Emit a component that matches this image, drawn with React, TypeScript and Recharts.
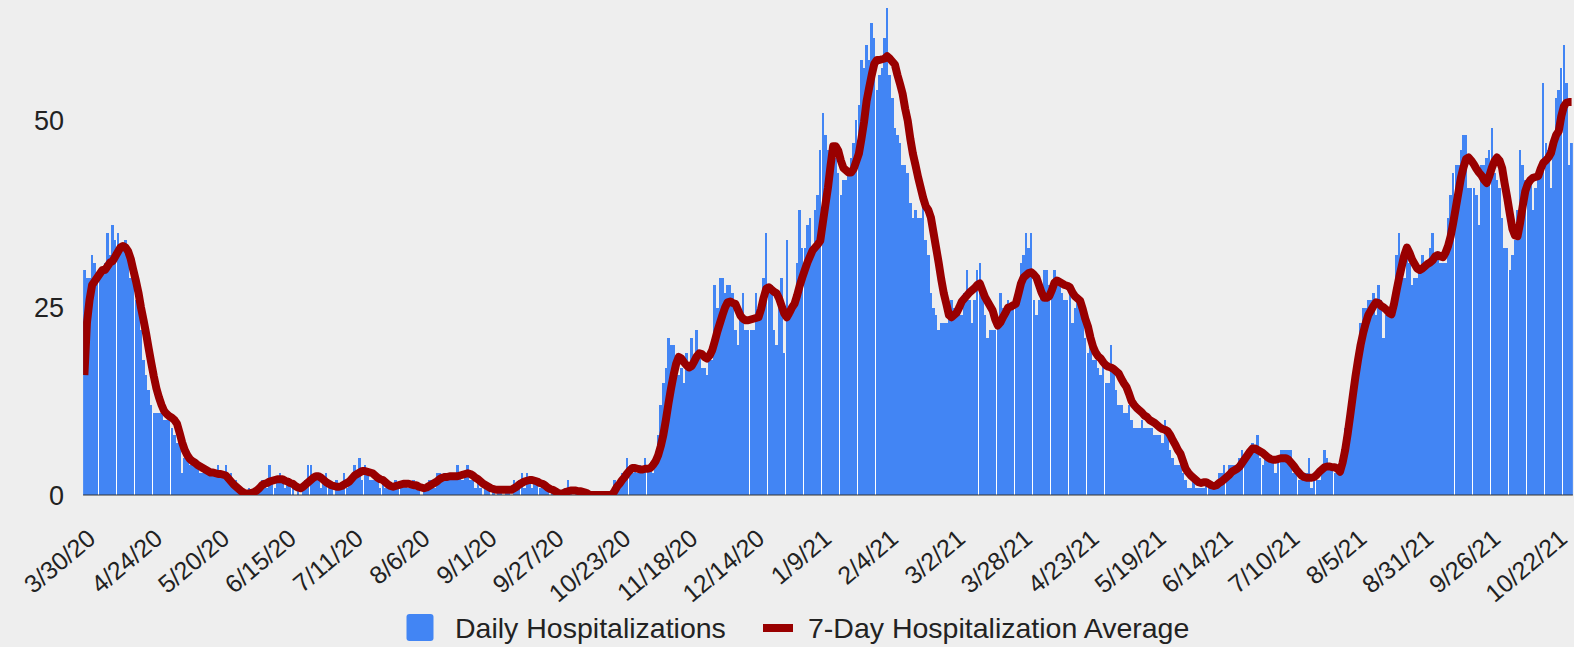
import { ComposedChart, Bar, Line, XAxis, YAxis, ReferenceLine } from "recharts"

// one value per day, first bar is late March 2020
const dailyHospitalizations = [
  30, 29, 29, 32, 31, 29, 30, 30, 31, 35,
  32, 36, 34, 35, 33, 33, 34, 32, 29, 29,
  26, 27, 22, 18, 16, 14, 12, 11, 11, 11,
  11, 10, 10, 10, 9, 8, 7, 7, 3, 5,
  5, 4, 4, 4, 4, 3, 3, 3, 3, 3,
  3, 3, 4, 3, 3, 4, 2, 3, 2, 2,
  1, 1, 0, 0, 1, 0, 0, 1, 1, 2,
  2, 1, 4, 2, 1, 2, 3, 2, 1, 2,
  2, 1, 0, 1, 0, 1, 2, 4, 4, 2,
  3, 2, 1, 2, 3, 1, 1, 0, 2, 1,
  1, 3, 1, 2, 2, 4, 3, 5, 2, 4,
  3, 2, 2, 3, 2, 1, 2, 1, 1, 1,
  1, 2, 1, 1, 2, 2, 1, 1, 2, 1,
  1, 0, 1, 1, 2, 2, 1, 3, 3, 2,
  3, 2, 2, 3, 2, 4, 3, 2, 3, 4,
  2, 3, 1, 2, 1, 0, 1, 1, 0, 1,
  0, 1, 1, 0, 1, 1, 0, 2, 1, 2,
  3, 1, 3, 2, 1, 2, 2, 1, 2, 1,
  1, 0, 1, 0, 0, 0, 0, 1, 2, 1,
  0, 1, 0, 1, 0, 0, 0, 0, 0, 0,
  0, 0, 0, 0, 0, 0, 2, 1, 2, 3,
  3, 5, 4, 3, 4, 3, 4, 3, 5, 4,
  4, 3, 5, 8, 12, 15, 17, 21, 20, 20,
  17, 16, 17, 15, 19, 17, 21, 18, 22, 19,
  17, 17, 16, 18, 18, 28, 25, 29, 29, 27,
  28, 28, 27, 22, 20, 24, 27, 22, 22, 22,
  22, 27, 24, 24, 29, 35, 28, 28, 22, 20,
  25, 29, 19, 34, 24, 24, 26, 31, 38, 33,
  33, 36, 37, 32, 38, 40, 46, 51, 48, 46,
  44, 46, 45, 43, 40, 42, 42, 43, 45, 47,
  50, 52, 58, 57, 60, 58, 63, 61, 54, 56,
  57, 61, 65, 56, 53, 49, 48, 47, 44, 44,
  43, 39, 37, 38, 37, 37, 39, 34, 32, 27,
  25, 24, 22, 23, 23, 23, 24, 26, 25, 25,
  24, 24, 27, 30, 26, 23, 26, 30, 31, 27,
  24, 21, 22, 22, 22, 23, 27, 25, 25, 26,
  25, 25, 25, 27, 31, 32, 35, 33, 35, 26,
  24, 26, 27, 30, 30, 28, 27, 30, 29, 28,
  27, 26, 26, 27, 23, 25, 26, 26, 25, 21,
  19, 20, 18, 18, 17, 16, 18, 15, 15, 20,
  17, 14, 12, 12, 11, 11, 12, 10, 9, 9,
  9, 10, 9, 9, 9, 9, 8, 8, 8, 7,
  10, 8, 6, 5, 4, 4, 4, 3, 2, 1,
  1, 2, 1, 1, 1, 1, 2, 2, 1, 1,
  1, 3, 3, 4, 2, 4, 4, 4, 4, 5,
  6, 5, 6, 6, 7, 6, 8, 5, 4, 5,
  5, 5, 5, 3, 5, 6, 6, 6, 6, 6,
  3, 4, 2, 2, 3, 3, 5, 1, 2, 2,
  2, 4, 6, 5, 4, 4, 3, 4, 3, 4,
  9, 7, 12, 14, 17, 20, 23, 25, 25, 26,
  26, 27, 24, 28, 26, 21, 24, 25, 25, 27,
  32, 35, 30, 29, 32, 31, 28, 29, 29, 30,
  32, 31, 31, 33, 35, 32, 32, 31, 31, 31,
  37, 40, 43, 44, 44, 46, 48, 48, 41, 41,
  41, 40, 36, 44, 44, 45, 46, 49, 43, 42,
  41, 37, 33, 33, 30, 32, 34, 38, 46, 44,
  42, 41, 42, 38, 41, 43, 44, 55, 47, 46,
  41, 48, 53, 54, 57, 60, 55, 44, 47,
]

const sevenDayAverage = [
  16, 23, 26, 28, 28.5, 29, 29.5, 30, 30, 30.5,
  31, 31.2, 31.8, 32.4, 33, 33.2, 33, 32.5, 31.5, 30,
  28.6, 27, 25, 23.3, 21.5, 19.5, 17.6, 15.8, 14.2, 13,
  12, 11.2, 10.8, 10.5, 10.3, 10, 9.5, 8.3, 7, 6,
  5.3, 4.8, 4.5, 4.3, 4, 3.8, 3.6, 3.4, 3.2, 3,
  3, 2.9, 2.8, 2.8, 2.7, 2.6, 2.2, 1.8, 1.4, 1.1,
  0.8, 0.5, 0.3, 0.2, 0.2, 0.3, 0.4, 0.6, 0.9, 1.3,
  1.5, 1.6, 1.8, 1.9, 2, 2.1, 2.1, 2.1, 1.9, 1.8,
  1.6, 1.5, 1.2, 1, 0.9, 1.1, 1.4, 1.7, 2, 2.3,
  2.5, 2.5, 2.3, 2, 1.7, 1.5, 1.3, 1.2, 1.1, 1.1,
  1.2, 1.4, 1.6, 1.8, 2.2, 2.6, 2.8, 3, 3.2, 3.2,
  3.1, 3, 2.9, 2.6, 2.3, 2.1, 2, 1.7, 1.4, 1.2,
  1.1, 1.2, 1.3, 1.4, 1.5, 1.5, 1.5, 1.4, 1.3, 1.3,
  1.1, 1, 0.9, 1, 1.2, 1.4, 1.6, 1.8, 2.1, 2.3,
  2.4, 2.4, 2.5, 2.5, 2.5, 2.5, 2.6, 2.7, 2.8, 2.9,
  2.8, 2.6, 2.3, 2.1, 1.8, 1.5, 1.3, 1.1, 0.9, 0.8,
  0.7, 0.7, 0.7, 0.7, 0.7, 0.7, 0.7, 0.9, 1.1, 1.4,
  1.6, 1.8, 1.9, 2, 2, 1.9, 1.8, 1.6, 1.5, 1.3,
  1, 0.8, 0.7, 0.5, 0.3, 0.2, 0.2, 0.4, 0.5, 0.6,
  0.6, 0.6, 0.5, 0.5, 0.4, 0.3, 0.1, 0, 0, 0,
  0, 0, 0, 0, 0, 0, 0.5, 1.1, 1.5, 2,
  2.4, 2.9, 3.3, 3.6, 3.6, 3.5, 3.4, 3.4, 3.5, 3.5,
  3.6, 4, 4.5, 5.3, 6.5, 8, 10, 12.2, 14.2, 16,
  17.5, 18.4, 18.2, 17.7, 17.3, 17, 17.2, 17.8, 18.5, 18.9,
  18.8, 18.4, 18.2, 18.6, 19.3, 20.5, 21.8, 22.9, 24, 25,
  25.7, 25.8, 25.6, 25.5, 24.7, 23.9, 23.5, 23.3, 23.3, 23.4,
  23.5, 23.6, 23.7, 24.8, 26.3, 27.5, 27.7, 27.4, 27.1, 26.9,
  26.2, 25.2, 24.2, 23.7, 24.3, 25, 25.5, 26.6, 27.9, 29,
  30, 31, 31.8, 32.6, 33, 33.4, 33.9, 36.3, 38.7, 41,
  43.9, 46.5, 46.5, 45.9, 44.6, 43.6, 43.3, 43, 43, 43.5,
  44.5, 45.5, 47.5, 49.7, 52.5, 54.3, 56, 57.5, 58, 58,
  58.1, 58.2, 58.5, 58.2, 57.8, 57.4, 56, 54.8, 53.5, 51.5,
  49.9, 47.5, 45.5, 44, 42.4, 41, 39.6, 38.5, 38, 37,
  35, 33, 31, 28.8, 26.9, 25.5, 24, 23.7, 24, 24.3,
  25, 25.8, 26.2, 26.6, 27, 27.3, 27.6, 28, 28.2, 27.3,
  26.4, 25.8, 25.2, 24.6, 23.4, 22.6, 23, 23.7, 24.3, 25,
  25.1, 25.3, 25.5, 26.8, 28.2, 29, 29.3, 29.6, 29.7, 29.4,
  29, 28, 27, 26.3, 26.3, 26.5, 27.3, 28.3, 28.6, 28.4,
  28.2, 28, 27.9, 27.7, 27, 26.5, 26.2, 25.9, 24.8, 23.5,
  22.5, 21, 19.8, 19, 18.5, 18.2, 17.7, 17.3, 17.1, 17,
  16.8, 16.5, 16.2, 15.5, 14.9, 14.4, 13.5, 12.5, 12, 11.6,
  11.3, 11, 10.6, 10.4, 10, 9.8, 9.6, 9.3, 9, 8.8,
  8.7, 8.5, 8, 7.3, 6.7, 6, 5.5, 4.5, 3.5, 3,
  2.6, 2.3, 2, 1.7, 1.6, 1.7, 1.7, 1.5, 1.3, 1.2,
  1.3, 1.6, 1.8, 2.1, 2.4, 2.7, 3.1, 3.3, 3.5, 3.8,
  4.3, 4.8, 5.3, 5.8, 6.2, 6.2, 6, 5.8, 5.6, 5.3,
  5, 4.8, 4.7, 4.7, 4.8, 4.9, 4.9, 4.9, 4.7, 4.3,
  3.9, 3.4, 3, 2.6, 2.4, 2.3, 2.3, 2.3, 2.4, 2.7,
  3.1, 3.4, 3.7, 3.8, 3.8, 3.7, 3.7, 3.5, 3.1, 4.3,
  6, 8.2, 10.7, 13.3, 15.8, 18, 20, 21.6, 22.9, 24,
  24.6, 25.2, 25.7, 25.6, 25.2, 25, 24.7, 24.3, 24.1, 25.5,
  27.3, 29, 30.5, 32, 33, 32.3, 31.4, 30.8, 30.2, 30,
  30.2, 30.5, 30.8, 31, 31.3, 31.8, 32, 31.8, 31.7, 32.3,
  33.2, 34.5, 36.3, 38.3, 40.3, 42.3, 43.7, 44.8, 45, 44.6,
  44.1, 43.5, 43, 42.6, 42, 41.6, 42.5, 43.6, 44.5, 45,
  44.6, 43.6, 41.5, 39.6, 37.5, 35.5, 34.6, 34.5, 36.3, 38.5,
  40.5, 41.5, 42, 42.3, 42.4, 42.5, 43.5, 44.3, 44.6, 45,
  45.6, 47, 48, 48.5, 50.5, 51.8, 52.3, 52.4, 52.4,
]

const tickDays = [5, 31, 57, 83, 109, 135, 161, 187, 213, 239, 265, 291, 317, 343, 369, 395, 421, 447, 473, 499, 525, 551, 577]
const tickLabels = [
  "3/30/20", "4/24/20", "5/20/20", "6/15/20", "7/11/20", "8/6/20", "9/1/20", "9/27/20",
  "10/23/20", "11/18/20", "12/14/20", "1/9/21", "2/4/21", "3/2/21", "3/28/21", "4/23/21",
  "5/19/21", "6/14/21", "7/10/21", "8/5/21", "8/31/21", "9/26/21", "10/22/21",
]
const yTicks = [0, 25, 50]

const data = dailyHospitalizations.map((daily, day) => ({
  day,
  daily,
  avg: sevenDayAverage[day],
}))

const FONT = '"Liberation Sans", Arial, sans-serif'
const DAY_PX = 2.573
const PLOT_LEFT = 83.1
const PLOT_BOTTOM = 495
const CHART_W = 1600
const CHART_H = 647
const plotWidth = data.length * DAY_PX

// bars get snapped to whole pixels, which leaves the odd 1px white seam like the original
function DayBar(props) {
  const { x, y, width, height, index } = props
  if (!height || height <= 0) return null
  const left = Math.round(x)
  const right = Math.round(x + width)
  const nextLeft = Math.round(x + DAY_PX)
  const own = dailyHospitalizations[index]
  const next = dailyHospitalizations[index + 1] ?? 0
  const seam = own > 0 ? Math.min(height, (height * next) / own) : 0
  return (
    <g>
      <rect x={left} y={y} width={right - left} height={height} fill="#4285f4" shapeRendering="crispEdges" />
      {nextLeft > right && seam > 0 ? (
        <rect x={right} y={y + height - seam} width={nextLeft - right} height={seam} fill="#ffffff" shapeRendering="crispEdges" />
      ) : null}
    </g>
  )
}

function SlantTick({ x, y, payload }) {
  const label = tickLabels[tickDays.indexOf(payload.value)]
  return (
    <g transform={`translate(${x},${y + 46}) rotate(-40)`}>
      <text textAnchor="end" fontSize={25} fill="#222" fontFamily={FONT}>
        {label}
      </text>
    </g>
  )
}

export default function App() {
  return (
    <div
      style={{
        position: "fixed",
        left: 0,
        top: 0,
        width: 1574,
        height: 647,
        background: "#eeeeee",
        overflow: "hidden",
        fontFamily: FONT,
      }}
    >
      <ComposedChart
        width={CHART_W}
        height={CHART_H}
        data={data}
        margin={{ top: 0, right: CHART_W - PLOT_LEFT - plotWidth, bottom: 0, left: 0 }}
      >
        <XAxis
          dataKey="day"
          type="number"
          domain={[-0.5, data.length - 0.5]}
          ticks={tickDays}
          interval={0}
          tick={<SlantTick />}
          tickLine={false}
          axisLine={false}
          tickSize={0}
          tickMargin={0}
          height={CHART_H - PLOT_BOTTOM}
          allowDataOverflow
        />
        <YAxis
          domain={[0, 66]}
          ticks={yTicks}
          width={PLOT_LEFT}
          tickLine={false}
          axisLine={false}
          tickSize={0}
          tickMargin={19}
          tick={{ fontSize: 27, fill: "#222", fontFamily: FONT }}
          allowDataOverflow
        />
        <ReferenceLine y={0} stroke="#333333" strokeWidth={1} />
        <Bar dataKey="daily" barSize={2.485} shape={<DayBar />} isAnimationActive={false} />
        <Line
          type="linear"
          dataKey="avg"
          stroke="#990000"
          strokeWidth={8}
          strokeLinejoin="round"
          dot={false}
          activeDot={false}
          isAnimationActive={false}
        />
      </ComposedChart>
      <svg width={1574} height={47} style={{ position: "absolute", left: 0, top: 600 }}>
        <rect x={406.5} y={14} width={27} height={27} rx={3} fill="#4285f4" />
        <text x={455} y={38} fontSize={28.5} fill="#222" fontFamily={FONT}>
          Daily Hospitalizations
        </text>
        <rect x={763} y={24} width={30} height={8} fill="#990000" />
        <text x={808} y={38} fontSize={28.5} fill="#222" fontFamily={FONT}>
          7-Day Hospitalization Average
        </text>
      </svg>
    </div>
  )
}
